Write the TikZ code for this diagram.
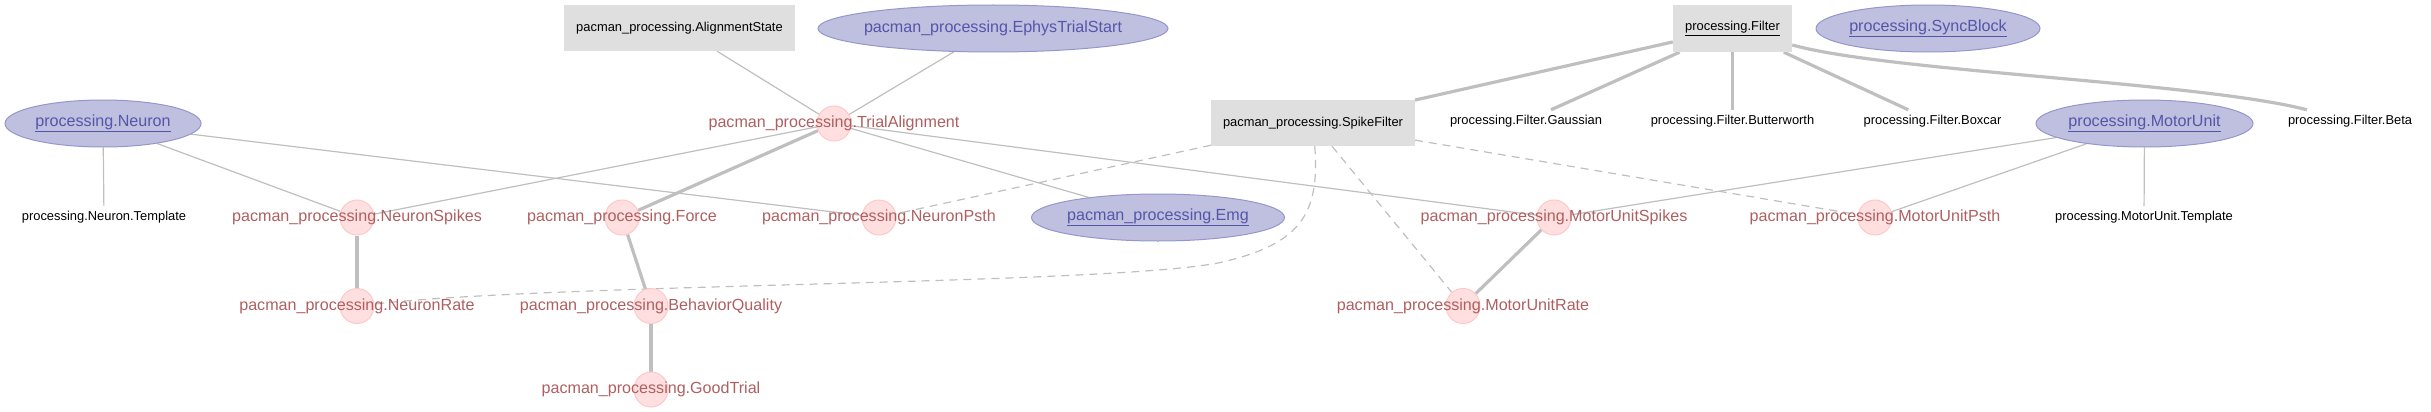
\documentclass[tikz,border=0pt]{standalone}
\usepackage{fontspec}
\setmainfont{Liberation Sans}
\usepackage{tikz}
\usetikzlibrary{shapes.geometric,backgrounds}
\definecolor{erdgray} {RGB}{223,223,223}
\definecolor{erdedge} {RGB}{191,191,191}
\definecolor{cmpfill} {RGB}{255,223,223}
\definecolor{cmpdraw} {RGB}{255,200,200}
\definecolor{cmptext} {RGB}{175, 95, 95}
\definecolor{impfill} {RGB}{191,191,223}
\definecolor{impdraw} {RGB}{150,150,205}
\definecolor{imptext} {RGB}{ 85, 85,170}
\newcommand{\erdsmall}{\fontsize{12.9pt}{15pt}\selectfont}
\newcommand{\erdlarge}{\fontsize{16.1pt}{19pt}\selectfont}
\tikzset{
  lkp/.style={fill=erdgray,inner sep=0pt,minimum height=46pt,font=\erdsmall},
  imp/.style={ellipse,draw=impdraw,fill=impfill,line width=1pt,
              inner sep=0pt,minimum height=47pt},
  imptxt/.style={font=\erdlarge,text=imptext,inner sep=0pt},
  cmp/.style={ellipse,draw=cmpdraw,fill=cmpfill,line width=1pt,
              inner sep=0pt,minimum width=34pt,minimum height=35pt},
  cmptxt/.style={font=\erdlarge,text=cmptext,inner sep=0pt},
  prt/.style={inner sep=0pt,minimum height=22pt,font=\erdsmall},
  lnk/.style={draw=erdedge,line width=1.2pt},
  lnkbold/.style={lnk,line width=3.2pt},
  lnkdash/.style={lnk,dash pattern=on 8pt off 6pt},
}

\begin{document}
\begin{tikzpicture}[x=1pt,y=-1pt]
  \useasboundingbox (0,0) rectangle (2431,412);

  \node[lkp,minimum width=231pt](AS) at (679.5,28) {pacman\_processing.AlignmentState};
  \node[imp,minimum width=350pt,label={[imptxt]center:pacman\_processing.EphysTrialStart}](ETS) at (993,28.5) {};
  \node[lkp,minimum width=119pt,minimum height=47pt](FLT) at (1732.5,28.5) {\underline{processing.Filter}};
  \node[imp,minimum width=224pt,label={[imptxt]center:\underline{processing.SyncBlock}}](SYB) at (1928,28.5) {};

  \node[imp,minimum width=196pt,label={[imptxt]center:\underline{processing.Neuron}}](NRN) at (103,123.5) {};
  \node[cmp,label={[cmptxt]center:pacman\_processing.TrialAlignment}](TA) at (834,123.5) {};
  \node[lkp,minimum width=203.5pt](SPF) at (1313,123) {pacman\_processing.SpikeFilter};
  \node[prt](GAU) at (1526,121) {processing.Filter.Gaussian};
  \node[prt](BUT) at (1732.5,121) {processing.Filter.Butterworth};
  \node[prt](BOX) at (1932.5,121) {processing.Filter.Boxcar};
  \node[imp,minimum width=217pt,label={[imptxt]center:\underline{processing.MotorUnit}}](MU) at (2144.5,123.5) {};
  \node[prt](BETA) at (2350,121) {processing.Filter.Beta};

  \node[prt](NTPL) at (104,217) {processing.Neuron.Template};
  \node[cmp,label={[cmptxt]center:pacman\_processing.NeuronSpikes}](NS) at (357,217.5) {};
  \node[cmp,label={[cmptxt]center:pacman\_processing.Force}](FRC) at (622,217.5) {};
  \node[cmp,label={[cmptxt]center:pacman\_processing.NeuronPsth}](NP) at (879,217.5) {};
  \node[imp,minimum width=253pt,label={[imptxt]center:\underline{pacman\_processing.Emg}}](EMG) at (1158,217.5) {};
  \node[cmp,label={[cmptxt]center:pacman\_processing.MotorUnitSpikes}](MUS) at (1554,217.5) {};
  \node[cmp,label={[cmptxt]center:pacman\_processing.MotorUnitPsth}](MUP) at (1875,217.5) {};
  \node[prt](MTPL) at (2144,217) {processing.MotorUnit.Template};

  \node[cmp,label={[cmptxt]center:pacman\_processing.NeuronRate}](NR) at (357,306) {};
  \node[cmp,label={[cmptxt]center:pacman\_processing.BehaviorQuality}](BQ) at (651,306) {};
  \node[cmp,label={[cmptxt]center:pacman\_processing.MotorUnitRate}](MUR) at (1463,306) {};
  \node[cmp,label={[cmptxt]center:pacman\_processing.GoodTrial}](GT) at (651,389.5) {};

  \begin{scope}[on background layer]
    \draw[lnk](AS) -- (TA);
    \draw[lnk](ETS) -- (TA);
    \draw[lnkbold](FLT) -- (SPF);
    \draw[lnkbold](FLT) -- (GAU);
    \draw[lnkbold](FLT) -- (BUT);
    \draw[lnkbold](FLT) -- (BOX);
    \draw[lnkbold](FLT) .. controls (1890,72) and (2200,82) .. (BETA);

    \draw[lnk](NRN) -- (NTPL);
    \draw[lnk](NRN) -- (NS);
    \draw[lnk](NRN) -- (NP);
    \draw[lnk](TA) -- (NS);
    \draw[lnkbold](TA) -- (FRC);
    \draw[lnk](TA) -- (EMG);
    \draw[lnk](TA) -- (MUS);
    \draw[lnk](MU) -- (MUS);
    \draw[lnk](MU) -- (MUP);
    \draw[lnk](MU) -- (MTPL);

    \draw[lnkdash](SPF) -- (NP);
    \draw[lnkdash](SPF) -- (MUR);
    \draw[lnkdash](SPF) -- (MUP);
    \draw[lnkdash](SPF) .. controls (1320,215) and (1300,245) .. (1218,263)
                        .. controls (1100,285) and (560,283) .. (NR);

    \draw[lnkbold](NS) -- (NR);
    \draw[lnkbold](FRC) -- (BQ);
    \draw[lnkbold](BQ) -- (GT);
    \draw[lnkbold](MUS) -- (MUR);
  \end{scope}
\end{tikzpicture}
\end{document}
